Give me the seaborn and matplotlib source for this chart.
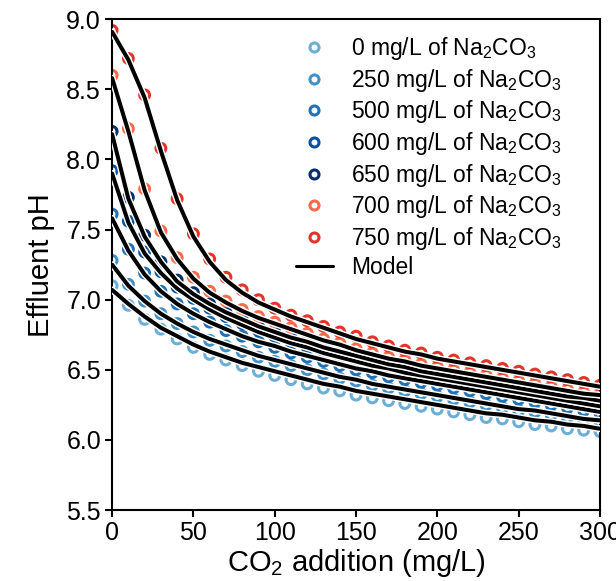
"""Effluent pH versus CO2 addition for several Na2CO3 doses, data and model."""

import matplotlib
matplotlib.use("Agg")
import matplotlib.pyplot as plt
import matplotlib.patheffects as pe
from matplotlib.lines import Line2D
import numpy as np
import pandas as pd
import seaborn as sns

sns.set_style("ticks")
plt.rcParams["font.family"] = ["Liberation Sans", "DejaVu Sans"]
plt.rcParams["mathtext.fontset"] = "custom"
plt.rcParams["mathtext.rm"] = "Liberation Sans"
plt.rcParams["mathtext.it"] = "Liberation Sans"
for key in ["text.color", "axes.labelcolor", "xtick.color", "ytick.color", "axes.edgecolor"]:
    plt.rcParams[key] = "black"

# CO2 addition (mg/L), measured every 10 mg/L
co2 = list(range(0, 301, 10))

doses = ["0", "250", "500", "600", "650", "700", "750"]
colors = ["#6baed6", "#4292c6", "#2171b5", "#08519c", "#08306b", "#fb6a4a", "#e03528"]

# measured effluent pH
ph_0 = [7.10, 6.96, 6.86, 6.79, 6.72, 6.66, 6.61, 6.57, 6.53, 6.49, 6.46, 6.43, 6.40, 6.37, 6.35,
        6.32, 6.30, 6.28, 6.26, 6.24, 6.22, 6.20, 6.18, 6.16, 6.15, 6.13, 6.11, 6.10, 6.08, 6.07, 6.06]
ph_250 = [7.28, 7.11, 6.99, 6.90, 6.83, 6.77, 6.71, 6.67, 6.63, 6.59, 6.56, 6.53, 6.50, 6.47, 6.44,
          6.42, 6.39, 6.37, 6.35, 6.33, 6.31, 6.29, 6.27, 6.25, 6.23, 6.21, 6.20, 6.18, 6.16, 6.14, 6.13]
ph_500 = [7.61, 7.36, 7.19, 7.06, 6.97, 6.90, 6.84, 6.78, 6.74, 6.70, 6.66, 6.62, 6.59, 6.56, 6.53,
          6.50, 6.48, 6.45, 6.43, 6.41, 6.39, 6.37, 6.35, 6.33, 6.31, 6.29, 6.27, 6.25, 6.23, 6.21, 6.19]
ph_600 = [7.92, 7.56, 7.34, 7.20, 7.09, 7.01, 6.94, 6.88, 6.83, 6.78, 6.74, 6.70, 6.66, 6.63, 6.60,
          6.57, 6.54, 6.51, 6.49, 6.46, 6.44, 6.42, 6.40, 6.38, 6.36, 6.34, 6.32, 6.30, 6.28, 6.26, 6.24]
ph_650 = [8.20, 7.73, 7.46, 7.27, 7.14, 7.05, 6.97, 6.91, 6.86, 6.81, 6.77, 6.73, 6.70, 6.66, 6.63,
          6.60, 6.57, 6.55, 6.52, 6.50, 6.47, 6.45, 6.43, 6.41, 6.39, 6.37, 6.35, 6.33, 6.31, 6.30, 6.28]
ph_700 = [8.60, 8.22, 7.79, 7.49, 7.30, 7.16, 7.06, 6.99, 6.93, 6.88, 6.84, 6.80, 6.76, 6.72, 6.69,
          6.65, 6.62, 6.59, 6.57, 6.54, 6.52, 6.50, 6.48, 6.46, 6.44, 6.42, 6.40, 6.38, 6.36, 6.34, 6.33]
ph_750 = [8.92, 8.72, 8.46, 8.08, 7.72, 7.47, 7.29, 7.16, 7.07, 7.00, 6.94, 6.89, 6.85, 6.81, 6.77,
          6.74, 6.70, 6.67, 6.64, 6.62, 6.59, 6.57, 6.55, 6.53, 6.51, 6.49, 6.47, 6.45, 6.43, 6.41, 6.39]

# model effluent pH
mod_0 = [7.07, 6.97, 6.88, 6.80, 6.74, 6.68, 6.63, 6.59, 6.55, 6.52, 6.49, 6.46, 6.43, 6.40, 6.38,
         6.35, 6.33, 6.31, 6.29, 6.27, 6.25, 6.23, 6.21, 6.19, 6.18, 6.16, 6.14, 6.13, 6.11, 6.10, 6.08]
mod_250 = [7.25, 7.10, 6.99, 6.90, 6.83, 6.77, 6.72, 6.68, 6.64, 6.60, 6.57, 6.54, 6.51, 6.48, 6.45,
           6.43, 6.40, 6.38, 6.36, 6.34, 6.32, 6.30, 6.28, 6.26, 6.24, 6.22, 6.21, 6.19, 6.17, 6.15, 6.14]
mod_500 = [7.58, 7.35, 7.18, 7.06, 6.97, 6.90, 6.84, 6.79, 6.74, 6.70, 6.67, 6.63, 6.60, 6.57, 6.54,
           6.51, 6.49, 6.46, 6.44, 6.42, 6.40, 6.38, 6.36, 6.34, 6.32, 6.30, 6.28, 6.26, 6.24, 6.22, 6.20]
mod_600 = [7.90, 7.55, 7.33, 7.19, 7.08, 7.00, 6.93, 6.87, 6.82, 6.77, 6.73, 6.69, 6.66, 6.62, 6.59,
           6.56, 6.53, 6.51, 6.48, 6.46, 6.44, 6.42, 6.40, 6.38, 6.36, 6.34, 6.32, 6.30, 6.28, 6.26, 6.24]
mod_650 = [8.18, 7.72, 7.45, 7.27, 7.13, 7.04, 6.97, 6.91, 6.86, 6.81, 6.77, 6.73, 6.70, 6.66, 6.63,
           6.60, 6.57, 6.54, 6.52, 6.49, 6.47, 6.45, 6.43, 6.41, 6.39, 6.37, 6.35, 6.33, 6.31, 6.30, 6.28]
mod_700 = [8.58, 8.20, 7.78, 7.48, 7.29, 7.15, 7.05, 6.98, 6.92, 6.87, 6.83, 6.79, 6.75, 6.71, 6.68,
           6.64, 6.61, 6.58, 6.56, 6.53, 6.51, 6.49, 6.47, 6.45, 6.43, 6.41, 6.39, 6.37, 6.35, 6.33, 6.32]
mod_750 = [8.91, 8.71, 8.44, 8.06, 7.71, 7.45, 7.27, 7.14, 7.05, 6.98, 6.93, 6.88, 6.84, 6.80, 6.76,
           6.72, 6.69, 6.66, 6.63, 6.61, 6.58, 6.56, 6.54, 6.52, 6.50, 6.48, 6.46, 6.44, 6.42, 6.40, 6.38]

measured = [ph_0, ph_250, ph_500, ph_600, ph_650, ph_700, ph_750]
model = [mod_0, mod_250, mod_500, mod_600, mod_650, mod_700, mod_750]

fig = plt.figure(figsize=(6.16, 5.81), dpi=100)
ax = fig.add_axes([0.182, 0.122, 0.792, 0.845])

for dose, col, vals in zip(doses, colors, measured):
    df = pd.DataFrame({"co2": co2, "ph": vals})
    sns.scatterplot(data=df, x="co2", y="ph", ax=ax, marker="o", s=50,
                    fc="none", ec=col, linewidth=2.2, zorder=2)

outline = [pe.Stroke(linewidth=5.0, foreground="white"), pe.Normal()]
for dose, vals in zip(doses, model):
    df = pd.DataFrame({"co2": co2, "ph": vals})
    sns.lineplot(data=df, x="co2", y="ph", ax=ax, color="black", linewidth=2.9,
                 estimator=None, zorder=3, path_effects=outline)

ax.set_xlim(0, 300)
ax.set_ylim(5.5, 9.0)
ax.set_xticks(np.arange(0, 301, 50))
ax.set_yticks(np.arange(5.5, 9.01, 0.5))
ax.set_yticklabels([f"{v:.1f}" for v in np.arange(5.5, 9.01, 0.5)])
ax.tick_params(labelsize=18, width=1.5, length=5, direction="out", pad=3)
for sp in ax.spines.values():
    sp.set_linewidth(1.5)
ax.set_xlabel("CO$_2$ addition (mg/L)", fontsize=21, labelpad=1)
ax.set_ylabel("Effluent pH", fontsize=21, labelpad=8)

handles = [Line2D([], [], ls="none", marker="o", ms=6.5, mfc="none", mec=c, mew=2.2) for c in colors]
handles.append(Line2D([], [], color="black", lw=2.2))
labels = [f"{d} mg/L of Na$_2$CO$_3$" for d in doses] + ["Model"]
ax.legend(handles, labels, loc="upper right", frameon=False, fontsize=16.5,
          labelspacing=0.2, handlelength=1.6, handletextpad=0.8,
          bbox_to_anchor=(0.955, 1.0), borderpad=0.2)

fig.savefig("out.png", dpi=100)
